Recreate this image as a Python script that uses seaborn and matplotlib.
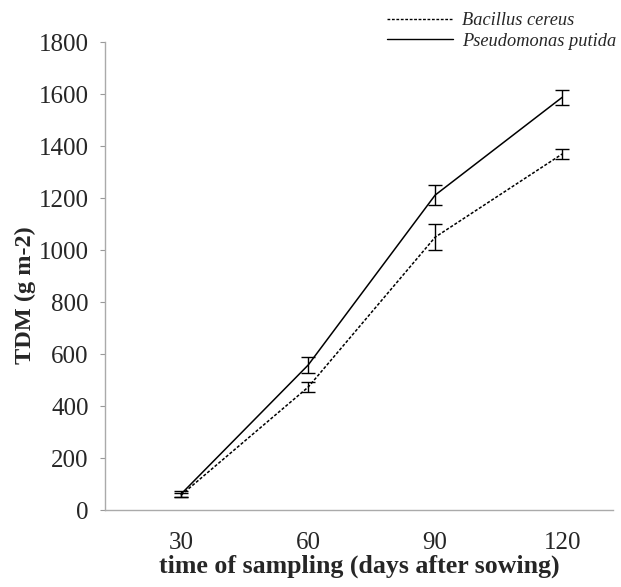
import matplotlib
matplotlib.use("Agg")
import matplotlib.pyplot as plt
import seaborn as sns
import pandas as pd
import numpy as np
from matplotlib.lines import Line2D

days = ["30", "60", "90", "120"]
bacillus = [58, 473, 1050, 1370]
bacillus_err = [8, 20, 50, 20]
pseudomonas = [62, 558, 1212, 1588]
pseudomonas_err = [10, 30, 40, 30]
series_names = ["Bacillus cereus", "Pseudomonas putida"]

sns.set_style("white")
plt.rcParams["font.family"] = ["Liberation Serif", "DejaVu Serif"]

fig = plt.figure(figsize=(6.21, 5.87), dpi=100)
ax = fig.add_axes([0.169, 0.131, 0.818, 0.797])

pos = np.arange(len(days))
df = pd.DataFrame({
    "pos": np.concatenate([pos, pos]),
    "value": bacillus + pseudomonas,
    "err": bacillus_err + pseudomonas_err,
    "series": [series_names[0]] * len(days) + [series_names[1]] * len(days),
})

sns.lineplot(data=df, x="pos", y="value", hue="series", style="series",
             palette={series_names[0]: "black", series_names[1]: "black"},
             dashes={series_names[0]: (2, 1.2), series_names[1]: ""},
             linewidth=1.1, ax=ax, legend=False)

for name in series_names:
    sub = df[df["series"] == name]
    ax.errorbar(sub["pos"], sub["value"], yerr=sub["err"], fmt="none",
                ecolor="black", elinewidth=1.0, capsize=5, capthick=1.0)

ax.set_xlim(-0.6, 3.4)
ax.set_ylim(0, 1800)
ax.set_yticks(np.arange(0, 1801, 200))
ax.set_xticks(pos)
ax.set_xticklabels(days)
ax.tick_params(axis="y", which="major", left=True, length=3.6, color="#999999",
               labelsize=18, pad=8)
ax.tick_params(axis="x", bottom=False, labelsize=18, pad=12)

for s in ["top", "right"]:
    ax.spines[s].set_visible(False)
for s in ["left", "bottom"]:
    ax.spines[s].set_color("#aaaaaa")
    ax.spines[s].set_linewidth(1.0)

ax.set_xlabel("time of sampling (days after sowing)", fontsize=18.6,
              fontweight="bold", labelpad=1)
ax.set_ylabel("TDM (g m-2)", fontsize=17.5, fontweight="bold")
ax.yaxis.set_label_coords(-0.135, 0.46)

handles = [Line2D([], [], color="black", linestyle=(0, (2, 1.2)), linewidth=1.0),
           Line2D([], [], color="black", linestyle="-", linewidth=1.0)]
leg = fig.legend(handles, series_names, loc="upper right",
                 bbox_to_anchor=(1.01, 0.998), frameon=False,
                 prop={"style": "italic", "size": 13.2}, handlelength=3.6,
                 labelspacing=0.2, handletextpad=0.5, borderaxespad=0.2)

fig.savefig("out.png", dpi=100)
